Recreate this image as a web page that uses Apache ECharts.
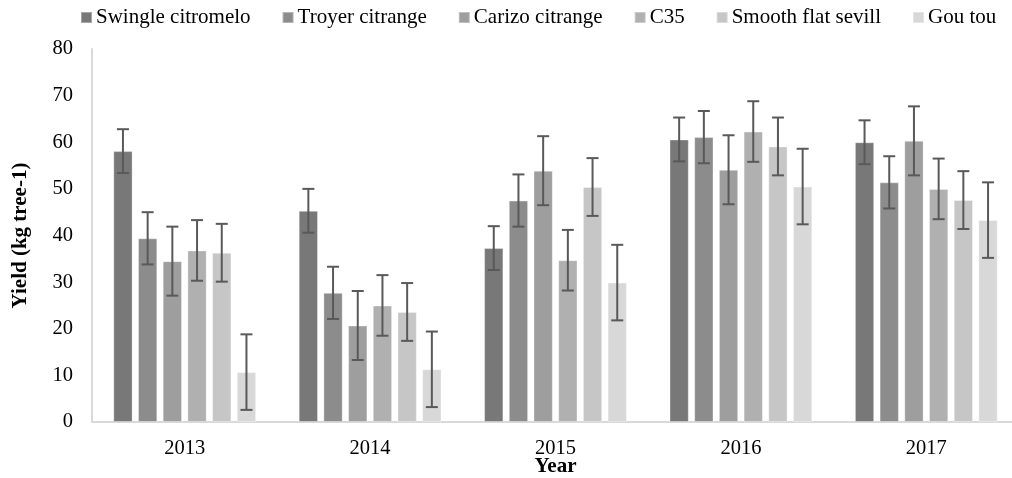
<!DOCTYPE html>
<html>
<head>
<meta charset="utf-8">
<script src="https://cdn.jsdelivr.net/npm/echarts@6/dist/echarts.min.js"></script>
<style>html,body{margin:0;padding:0;background:#fff;}#c{width:1012px;height:478px;}</style>
</head>
<body>
<div id="c"></div>
<script>
var years = ['2013', '2014', '2015', '2016', '2017'];
var seriesNames = ['Swingle citromelo', 'Troyer citrange', 'Carizo citrange', 'C35', 'Smooth flat sevill', 'Gou tou'];
var swingle = [58.1, 45.3, 37.3, 60.6, 60.0];
var troyer = [39.4, 27.7, 47.5, 61.1, 51.4];
var carizo = [34.5, 20.7, 53.9, 54.1, 60.3];
var c35 = [36.8, 25.0, 34.7, 62.3, 50.0];
var smooth = [36.3, 23.6, 50.4, 59.1, 47.6];
var goutou = [10.7, 11.3, 29.9, 50.5, 43.3];
var errors = [4.7, 5.6, 7.4, 6.5, 6.2, 8.1];
var yTicks = [0, 10, 20, 30, 40, 50, 60, 70, 80];
var colors = ['#787878', '#8c8c8c', '#9e9e9e', '#b0b0b0', '#c6c6c6', '#d8d8d8'];

var values = [swingle, troyer, carizo, c35, smooth, goutou];
var BAR_W = 19.3, BAR_STEP = 24.7;
var font = 'Liberation Serif';
var FS = 21;
var FS_AX = 20.5;

var series = [];
values.forEach(function (vals, i) {
  series.push({
    name: seriesNames[i],
    type: 'bar',
    data: vals,
    barWidth: BAR_W,
    barGap: ((BAR_STEP - BAR_W) / BAR_W * 100) + '%',
    itemStyle: { color: colors[i], borderColor: 'rgba(255,255,255,0.35)', borderWidth: 1 },
    emphasis: { disabled: true },
    z: 2
  });
});
values.forEach(function (vals, i) {
  var offset = (i - 2.5) * BAR_STEP;
  series.push({
    name: 'err' + i,
    type: 'custom',
    data: vals.map(function (v, k) { return [k, v, errors[i]]; }),
    z: 5,
    silent: true,
    renderItem: function (params, api) {
      var k = api.value(0), v = api.value(1), e = api.value(2);
      var top = api.coord([k, v + e]);
      var bot = api.coord([k, v - e]);
      var x = top[0] + offset;
      var cap = 6;
      var st = { stroke: '#595959', lineWidth: 2 };
      return {
        type: 'group',
        children: [
          { type: 'line', shape: { x1: x, y1: top[1], x2: x, y2: bot[1] }, style: st },
          { type: 'line', shape: { x1: x - cap, y1: top[1], x2: x + cap, y2: top[1] }, style: st },
          { type: 'line', shape: { x1: x - cap, y1: bot[1], x2: x + cap, y2: bot[1] }, style: st }
        ]
      };
    }
  });
});

var chart = echarts.init(document.getElementById('c'));
chart.setOption({
  animation: false,
  backgroundColor: '#fff',
  textStyle: { fontFamily: font },
  legend: {
    data: seriesNames,
    left: 80,
    top: 7,
    padding: 0,
    itemWidth: 11,
    itemHeight: 11,
    itemGap: 31,
    icon: 'rect',
    textStyle: { fontFamily: font, fontSize: FS, color: '#000', padding: [0, 0, 0, -1] }
  },
  grid: { left: 92, top: 49, right: -7, bottom: 56, outerBoundsMode: 'none', containLabel: false },
  xAxis: {
    type: 'category',
    data: years,
    name: 'Year',
    nameLocation: 'middle',
    nameGap: 34,
    nameMoveOverlap: false,
    nameTextStyle: { fontFamily: font, fontSize: FS, fontWeight: 'bold', color: '#000' },
    axisLine: { lineStyle: { color: '#d9d9d9', width: 2 } },
    axisTick: { show: false },
    axisLabel: { fontFamily: font, fontSize: FS_AX, color: '#000', margin: 16 },
    splitLine: { show: false }
  },
  yAxis: {
    type: 'value',
    min: yTicks[0],
    max: yTicks[yTicks.length - 1],
    interval: 10,
    name: 'Yield (kg tree-1)',
    nameLocation: 'middle',
    nameGap: 61,
    nameMoveOverlap: false,
    nameTextStyle: { fontFamily: font, fontSize: FS, fontWeight: 'bold', color: '#000' },
    axisLine: { show: true, lineStyle: { color: '#d9d9d9', width: 2 } },
    axisTick: { show: false },
    axisLabel: { fontFamily: font, fontSize: FS_AX, color: '#000', margin: 19 },
    splitLine: { show: false }
  },
  series: series
});
</script>
</body>
</html>
